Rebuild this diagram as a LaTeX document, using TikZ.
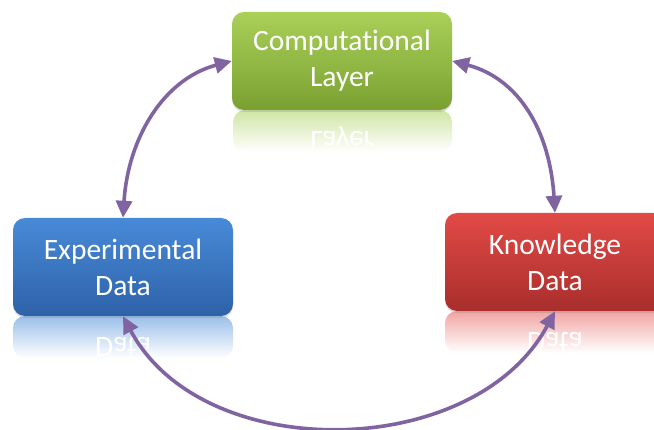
\documentclass[tikz,border=0pt]{standalone}
\usepackage{fontspec}
\setmainfont{Carlito}[Ligatures=NoCommon]
\usetikzlibrary{arrows.meta,shadows}
\definecolor{arrowc}{RGB}{128,100,162}
\definecolor{gtop}{RGB}{170,208,88}
\definecolor{gbot}{RGB}{122,160,50}
\definecolor{btop}{RGB}{72,138,216}
\definecolor{bbot}{RGB}{46,98,168}
\definecolor{rtop}{RGB}{226,74,70}
\definecolor{rbot}{RGB}{168,46,44}
\begin{document}
\begin{tikzpicture}[
  x=1pt,y=1pt,
  box/.style={rectangle, rounded corners=12pt, minimum width=220pt, minimum height=98pt,
    inner sep=0pt, text=white, align=center, font=\fontsize{29.5}{36}\selectfont,
    drop shadow={opacity=0.25, shadow xshift=0pt, shadow yshift=-2pt}},
  refl/.style={rounded corners=12pt},
  mirror/.style={text=white, anchor=base, inner sep=0pt, font=\fontsize{29.5}{36}\selectfont},
  link/.style={draw=arrowc, line width=3.6pt,
    {Triangle[length=17pt,width=16pt]}-{Triangle[length=17pt,width=16pt]}}
]
\useasboundingbox (0,0) rectangle (654,-430);

% reflections
\shade[refl, top color=gtop!55!white, bottom color=white] (233,-110) rectangle (452,-152);
\shade[refl, top color=btop!55!white, bottom color=white] (13,-316) rectangle (233,-358);
\shade[refl, top color=rtop!50!white, bottom color=white] (445,-311) rectangle (665,-353);
\node[mirror] (gm) at (342,-131.5) {\scalebox{1}[-1]{Layer}};
\node[mirror] (bm) at (123,-337.5) {\scalebox{1}[-1]{Data}};
\node[mirror] (rm) at (555,-332.5) {\scalebox{1}[-1]{Data}};

% boxes
\node[box, top color=gtop, bottom color=gbot] (g) at (342,-61) {\raisebox{-2pt}{Computational}\\\raisebox{-2pt}{Layer}};
\node[box, top color=btop, bottom color=bbot] (b) at (123,-267) {\raisebox{-2pt}{Experimental}\\\raisebox{-2pt}{Data}};
\node[box, top color=rtop, bottom color=rbot] (r) at (555,-262) {\raisebox{-2pt}{Knowledge}\\\raisebox{-2pt}{Data}};

% connectors
\draw[link] (g.west) .. controls +(-68,-18) and +(5,80) .. (b.north);
\draw[link] (g.east) .. controls +(68,-18) and +(-5,80) .. (r.north);
\draw[link] (b.south) .. controls +(80,-150) and +(-80,-150) .. (r.south);
\end{tikzpicture}
\end{document}
